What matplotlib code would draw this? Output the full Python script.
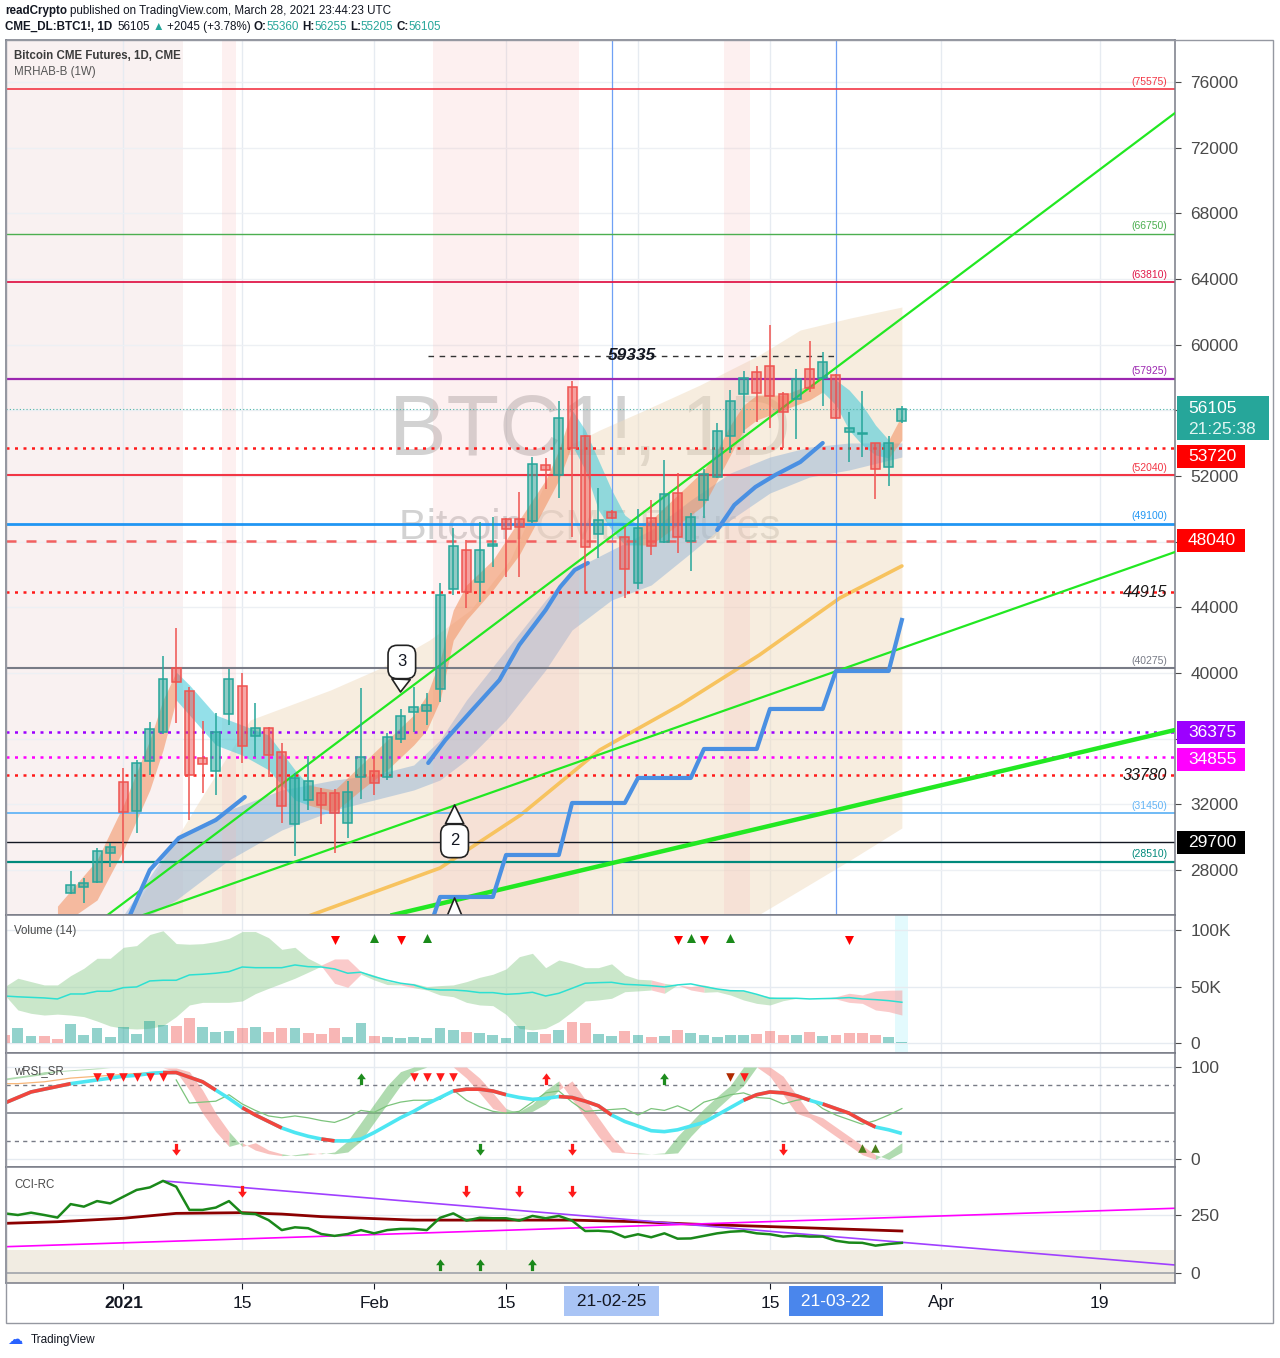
import matplotlib
matplotlib.use("Agg")
import matplotlib.pyplot as plt
import matplotlib.transforms as mtransforms
from matplotlib.colors import to_rgba
from matplotlib.patches import Rectangle
from matplotlib.path import Path

plt.rcParams['font.family'] = ['Liberation Sans', 'DejaVu Sans']

# ---------------- data (x = bar index, 0 = last bar 2021-03-29) ----------------
candle_idx = list(range(-63, 1))
opens = [26600, 26965, 27290, 29019, 33379, 31617, 34621, 36424, 40287, 38922,
         34809, 34048, 37484, 39208, 36180, 36670, 35170, 30784, 32245, 32672,
         32672, 30845, 33646, 34011, 33646, 35963, 37606, 37686, 39007, 45136,
         47493, 45563, 47737, 49400, 49400, 49278, 52653, 52061, 57403, 54437,
         48467, 49826, 48266, 45468, 49424, 47980, 50946, 48059, 50538, 51960,
         54456, 57005, 58317, 58700, 57005, 56680, 58500, 57956, 58135, 54668,
         54560, 53992, 52530, 55360]
highs = [27940, 27513, 29359, 29665, 34213, 34701, 37033, 41035, 42723, 39129,
         37076, 37545, 40243, 40020, 38155, 36730, 35720, 33890, 34944, 32975,
         32933, 33443, 39110, 34962, 36364, 37790, 39170, 38765, 45464, 48852,
         48102, 49182, 49522, 49420, 51044, 53176, 53078, 56570, 57806, 54500,
         51255, 49900, 48914, 49972, 50538, 52975, 52163, 49764, 52408, 55210,
         57239, 58419, 58723, 61198, 57140, 58500, 60242, 59553, 58200, 55920,
         57197, 54000, 54437, 56255]
lows = [26540, 25990, 27227, 28204, 28426, 30236, 33786, 36300, 36979, 31048,
        32708, 32568, 36834, 34500, 34900, 33690, 30884, 28870, 31655, 30784,
        29035, 29931, 32310, 32568, 33480, 35720, 36430, 36834, 38255, 44751,
        43939, 44305, 46476, 45867, 45867, 49117, 51194, 50646, 48302, 44953,
        46988, 49350, 44553, 45100, 47189, 47920, 47330, 46232, 49424, 51860,
        53382, 54601, 55310, 54906, 53687, 54236, 57117, 56264, 55500, 52872,
        53139, 50587, 51390, 55205]
closes = [27080, 27210, 29156, 29385, 31515, 34504, 36571, 39616, 39471, 33786,
          34443, 36387, 39616, 35571, 36630, 35003, 31922, 33590, 33440, 31944,
          31496, 32773, 34864, 33280, 36120, 37382, 37910, 38050, 44751, 47737,
          44917, 47493, 47860, 48771, 48873, 52713, 52366, 55515, 53687, 47657,
          49320, 49424, 46317, 48815, 47755, 50904, 48266, 49521, 52122, 54742,
          56570, 57956, 57043, 56873, 55886, 57895, 57342, 58931, 55555, 54905,
          54600, 52408, 54029, 56105]

# MRHAB-B cloud and ribbons
beige_idx = [-58.5, -53.2, -49.4, -43.3, -39.5, -35.8, -32.7, -29.7, -25.9, -22.9, -19.8, -15.3, -10.8, -7.7, -3.9, 0]
beige_hi = [25258, 32264, 37137, 38965, 40305, 42010, 43838, 46883, 53584, 54802, 55898, 57543, 59370, 60893, 61624, 62294]
beige_lo = [20000, 20000, 20000, 20000, 20000, 20000, 20000, 20000, 20000, 20000, 20000, 20000, 25300, 26782, 28610, 30560]

fr_idx = [-64, -61, -59, -57, -56, -55, -54, -52, -50, -48, -46, -45, -43, -41, -39, -37, -36, -35, -34, -33,
          -31, -29, -27, -26, -25, -24, -23, -22, -21, -20, -19, -17, -15, -14, -13, -12, -11, -9, -7, -6,
          -5, -4, -3, -2, -1, 0]
fr_lo = [24500, 26173, 29218, 32873, 35310, 38355, 37440, 35615, 35000, 34100, 32265, 31960, 31530, 32870, 34100,
         35615, 36530, 38350, 42000, 43230, 45055, 47190, 50230, 51750, 53890, 52360, 49930, 48710, 47800, 47800,
         47800, 49010, 50230, 51750, 53280, 54800, 55410, 56020, 56630, 57120, 56320, 54800, 53890, 53280, 53100, 54190]
fr_hi = [25800, 28610, 31960, 35920, 38355, 40060, 39270, 37440, 36830, 36220, 34100, 33180, 32870, 34400, 35920,
         37440, 38660, 40790, 43840, 45360, 46880, 49320, 51750, 53580, 56020, 54800, 52970, 51150, 49620, 49010,
         49320, 50840, 52360, 53580, 55100, 56320, 56930, 56930, 57540, 58150, 57850, 57240, 56320, 55100, 54190, 55710]
fr_col = "oooooo" "cccccc" "ooooooooooooo" "ccccc" "oooooooooo" "ccccc" "o"

br_idx = [-59, -55, -51, -47, -43, -40, -37, -35, -33, -30, -27, -25, -22, -19, -16, -13, -10, -7, -4, 0]
br_lo = [24346, 26173, 28610, 30437, 31655, 32264, 32873, 33482, 34701, 37137, 40183, 42619, 44446, 45360,
         47309, 49320, 50964, 51939, 52365, 53157]
br_hi = [25258, 29950, 31655, 32873, 33482, 33786, 34396, 35919, 38355, 41401, 44446, 46274, 47493, 48711,
         50538, 52183, 53157, 53766, 54010, 54010]

bl1_idx = [-58.5, -57, -54.8, -52, -49.8]
bl1 = [25258, 28000, 29950, 31045, 32446]
bl2_idx = [-35.9, -34.6, -32.7, -30.5, -29, -27, -25.9, -24.8, -23.8]
bl2 = [34518, 35919, 37624, 39573, 41705, 43837, 45238, 46274, 46700]
bl3_idx = [-14, -12.7, -11.1, -9.6, -7.7, -6]
bl3 = [48711, 50234, 51330, 52061, 52853, 54010]

step_idx = [-36, -35, -31, -30, -26, -25, -21, -20, -16, -15, -11, -10, -6, -5, -1, 0]
step_val = [24000, 26357, 26357, 28914, 28914, 32082, 32082, 33605, 33605, 35371, 35371, 37808, 37808, 40123, 40123, 43228]

ye_idx = [-47, -35, -28.9, -22.9, -16.8, -10.8, -4.7, 0]
ye_val = [24600, 28121, 31350, 35310, 38050, 41096, 44568, 46518]

trend_lines = [((-60.2, 25258), (20.7, 74112), 1.6),
               ((-57.5, 25258), (20.7, 47370), 1.6),
               ((-38.6, 25258), (20.7, 36528), 3.2)]

price_ticks = list(range(28000, 76001, 4000))
hidden_tick_labels = [56000, 48000, 36000]   # covered by the price boxes in the original

solid_levels = [75575, 66750, 63810, 57925, 52040, 49100, 40275, 31450, 29700, 28510]
solid_colors = ['#f23645', '#4caf50', '#e0194a', '#9c27b0', '#f23645', '#2196f3', '#787b86', '#64b5f6', '#131722', '#00897b']
solid_widths = [1.2, 1.0, 1.3, 1.6, 1.5, 2.0, 1.5, 1.3, 1.0, 1.6]
dot_levels = [53720, 48040, 44915, 36375, 34855, 33780]
dot_colors = ['#ff1a1a', '#f26060', '#ff1a1a', '#9c00ff', '#ff00ff', '#ff1a1a']
italic_levels = [44915, 33780]
# level, box colour, text colour, label shift in pixels (boxes are nudged apart)
boxed = [(53720, '#ff0000', 'white', -9), (48040, '#ff0000', 'white', 0), (36375, '#9c00ff', 'white', 0),
         (34855, '#ff00ff', 'white', -2), (29700, '#000000', 'white', 0)]
last_price = 56105
peak_level = 59335

bands = [(-67.9, -54.5), (-51.5, -50.5), (-35.5, -24.5), (-13.5, -11.5)]
callouts = [("3", (-38.0, 38843), (-37.9, 40670)),
            ("2", (-33.9, 31958), (-33.9, 29767)),
            ("1", (-33.9, 26294), (-33.9, 23900))]

# volume panel (K)
vol_idx = list(range(-68, 1))
volume = [7.3, 13.2, 6.4, 6.4, 3.8, 17.0, 7.3, 13.8, 5.6, 14.7, 8.2, 19.7, 16.2, 15.3, 22.1,
          14.7, 10.0, 10.9, 13.8, 14.7, 10.0, 13.2, 13.2, 9.1, 8.2, 13.8, 5.6, 17.9, 6.4, 5.3,
          4.7, 5.6, 4.7, 13.8, 11.5, 10.0, 9.1, 7.3, 4.7, 15.3, 10.0, 8.2, 11.5, 18.8, 17.9,
          8.2, 6.4, 10.9, 7.3, 5.6, 6.4, 11.8, 9.1, 7.3, 5.6, 7.3, 7.3, 8.2, 10.9, 7.3,
          7.3, 10.0, 6.4, 7.3, 9.1, 9.1, 7.3, 5.6, 1.2]
vol_dir = "rggrr" "ggggg" "gggrr" "gggrg" "rrgrr" "rggrg" "ggggg" "rgggg" "grgrr" "ggrgr" "grggg" "ggrrr" "grgrr" "rrgg"
vol_ma = [41.7, 41.0, 40.5, 40.0, 39.1, 43.5, 43.5, 45.9, 45.9, 49.1, 49.7, 55.0, 55.6, 55.6, 60.3,
          60.9, 61.8, 63.2, 67.3, 66.7, 66.7, 66.7, 69.1, 67.6, 67.3, 65.6, 61.8, 62.7, 58.8, 55.6,
          53.0, 51.5, 47.9, 47.0, 47.0, 46.2, 44.7, 44.7, 43.2, 43.8, 45.0, 41.7, 44.1, 48.5, 53.0,
          53.5, 53.8, 52.0, 51.5, 50.8, 49.7, 51.5, 52.4, 50.0, 47.9, 46.4, 46.2, 43.2, 39.7, 39.7,
          39.7, 39.1, 39.4, 39.7, 40.3, 39.1, 38.5, 37.6, 36.2]
vol_hi = [50.0, 57.4, 54.4, 51.5, 51.5, 59.7, 66.2, 75.0, 75.0, 84.7, 86.2, 96.0, 99.3, 88.0, 87.4,
          87.9, 89.7, 92.6, 98.6, 98.6, 93.2, 82.9, 84.7, 75.0, 69.1, 74.4, 74.4, 63.2, 60.3, 54.9,
          52.9, 52.9, 50.0, 50.9, 51.5, 54.4, 58.2, 60.9, 65.6, 76.4, 79.4, 66.7, 73.5, 70.6, 66.7,
          66.7, 70.1, 60.3, 56.5, 55.9, 52.9, 51.5, 50.0, 51.5, 48.5, 47.0, 46.2, 43.2, 41.1, 39.7,
          39.7, 39.1, 39.4, 41.1, 44.1, 42.6, 46.2, 46.8, 47.0]
vol_lo = [42.6, 29.4, 26.4, 24.9, 25.7, 24.9, 23.5, 19.6, 15.2, 13.2, 12.6, 13.2, 15.5, 23.5, 33.8,
          36.1, 36.1, 36.1, 37.3, 43.8, 48.5, 52.9, 57.4, 62.7, 68.1, 52.9, 49.4, 60.9, 55.9, 51.8,
          51.5, 49.0, 47.0, 42.6, 41.1, 36.1, 33.8, 33.2, 25.5, 13.2, 11.8, 13.2, 19.0, 27.9, 37.3,
          38.2, 39.7, 45.5, 46.2, 47.0, 44.1, 51.5, 47.0, 45.0, 45.5, 42.6, 38.2, 35.2, 33.8, 37.6,
          39.7, 39.1, 39.4, 39.1, 36.1, 35.2, 29.4, 27.9, 24.9]
vol_band_col = "ggggggggggggggggggggggggg" "rrr" "ggg" "r" "gggggggggggggggggg" "r" "g" "rr" "ggggggggg" "rrrrrr"
vol_sig_dn = [-43, -38, -17, -15, -4]
vol_sig_up = [-40, -36, -16, -13]

# wRSI_SR panel
rsi = [61, 67, 73, 76, 79, 82, 84, 86, 88, 90, 91, 93, 94, 94, 89, 84, 75, 66, 56, 48,
       41, 34, 29, 25, 22, 20, 20, 22, 29, 37, 45, 52, 60, 67, 74, 76, 76, 74, 70, 67,
       65, 66, 68, 67, 63, 58, 48, 41, 36, 31, 30, 32, 36, 40, 48, 56, 64, 70, 73, 72,
       69, 64, 60, 55, 50, 42, 35, 32, 28]
rsi_red_spans = [(-68, -63), (-56, -52), (-50, -47), (-44, -43), (-34, -30), (-26, -22), (-12, -7), (-6, -2)]
rsi_fast = [88, 90, 92, 95, 96, 97, 98, 99, 99, 99, 99, 99, 99, 95, 75, 50, 30, 14, 18, 10,
            6, 4, 5, 7, 6, 8, 20, 40, 60, 80, 95, 100, 100, 100, 100, 88, 72, 55, 50, 52,
            60, 75, 85, 65, 45, 25, 8, 7, 6, 6, 7, 25, 40, 55, 68, 80, 100, 100, 90, 70,
            50, 45, 35, 25, 15, 5, 0, 8, 18]
rsi_slow = [86, 88, 90, 92, 95, 96, 97, 98, 99, 99, 99, 99, 99, 99, 95, 75, 50, 30, 14, 18,
            10, 6, 4, 5, 7, 6, 8, 20, 40, 60, 80, 95, 100, 100, 100, 100, 88, 72, 55, 50,
            52, 60, 75, 85, 65, 45, 25, 8, 7, 6, 6, 7, 25, 40, 55, 68, 80, 100, 100, 90,
            70, 50, 45, 35, 25, 15, 5, 0, 8]
thin_idx = list(range(-55, 1))
rsi_thin = [86, 61, 62, 63, 70, 60, 53, 47, 45, 47, 45, 42, 40, 45, 53, 51, 58, 62, 64, 64,
            65, 75, 64, 57, 52, 50, 52, 62, 72, 74, 62, 52, 53, 54, 55, 48, 55, 53, 58, 52,
            62, 66, 70, 72, 67, 66, 60, 64, 66, 55, 48, 43, 38, 42, 48, 55]
orange_idx = list(range(-68, -54))
rsi_orange = [82, 82, 83, 84, 86, 88, 89, 90, 91, 92, 93, 94, 95, 95]
rsi_tri_dn = [-61, -60, -59, -58, -57, -56, -37, -36, -35, -34, -12]
rsi_tri_dn_dark = [-13]
rsi_tri_up = [-3, -2]
rsi_arrow_up = [(-41, '#1e8c1e'), (-27, '#ff1a1a'), (-18, '#1e8c1e')]
rsi_arrow_dn = [(-55, '#ff1a1a'), (-32, '#1e8c1e'), (-25, '#ff1a1a'), (-9, '#ff1a1a')]

# CCI-RC panel
cci = [257, 250, 260, 250, 239, 297, 286, 310, 300, 329, 358, 369, 397, 372, 272, 272, 282, 310, 257, 254,
       228, 185, 197, 193, 168, 160, 168, 185, 171, 185, 190, 190, 185, 238, 257, 226, 238, 236, 236, 226,
       246, 236, 246, 226, 181, 182, 178, 154, 167, 154, 171, 148, 149, 160, 171, 178, 181, 171, 167, 157,
       161, 157, 157, 139, 131, 130, 118, 125, 130]
cci_ma_idx = [-68, -64, -59, -55, -50, -47, -44, -37, -31, -25, -20, -16, -10, 0]
cci_ma = [214, 221, 236, 257, 260, 254, 243, 228, 228, 228, 221, 211, 200, 181]
cci_res = ((-55.9, 396.6), (20.7, 34.5))
cci_sup = ((-67.9, 113.4), (20.7, 279))
cci_arrow_dn = [-50, -33, -29, -25]
cci_arrow_up = [-35, -32, -28]

grid_idx = [-59, -50, -40, -30, -20, -10, 3, 15]
tick_text = ['2021', '15', 'Feb', '15', '', '15', 'Apr', '19']
marker_days = [(-22, '21-02-25', '#a9c4f5', '#131722'), (-5, '21-03-22', '#4a86ec', 'white')]

# ---------------- figure ----------------
W, H = 1280, 1358
fig = plt.figure(figsize=(W / 100, H / 100), dpi=100)


def panel(top, bottom):
    return fig.add_axes([6 / W, 1 - bottom / H, 1169 / W, (bottom - top) / H])


ax = panel(40, 915)
axv = panel(915, 1053)
axr = panel(1053, 1167)
axc = panel(1167, 1283)

for a in (ax, axv, axr, axc):
    a.set_xlim(-67.9, 20.7)
    a.yaxis.tick_right()
    a.tick_params(axis='y', length=4, pad=7, labelsize=12.5, colors='#4a4a4a')
    a.tick_params(axis='x', length=0, labelbottom=False)
    for s in a.spines.values():
        s.set_color('#787b86')
        s.set_linewidth(1.1)
    a.set_xticks(grid_idx)
    a.grid(True, axis='x', color='#e6ebf1', lw=1)
    a.set_axisbelow(True)

# ---- main panel ----
ax.set_ylim(25258, 78558)
ax.set_yticks(price_ticks)
ax.set_yticklabels(['' if t in hidden_tick_labels else str(t) for t in price_ticks])
ax.grid(True, axis='y', color='#edf0f4', lw=1)

ax.axvspan(bands[0][0], bands[0][1], color='#e8caca', alpha=0.25, lw=0, zorder=0.2)
for b0, b1 in bands[1:]:
    ax.axvspan(b0, b1, color='#f5b5b5', alpha=0.2, lw=0, zorder=1.3)

ax.text(0.4996, 0.551, 'BTC1!, 1D', transform=ax.transAxes, fontsize=62, color='#8a8a8a',
        alpha=0.38, ha='center', va='center', zorder=0.8)
ax.text(0.4996, 0.4423, 'Bitcoin CME Futures', transform=ax.transAxes, fontsize=30, color='#8a8a8a',
        alpha=0.38, ha='center', va='center', zorder=0.8)

ax.fill_between(beige_idx, beige_lo, beige_hi, color='#f0dcc0', alpha=0.5, lw=0, zorder=1)
ax.fill_between(br_idx, br_lo, br_hi, color='#8aaed6', alpha=0.45, lw=0, zorder=1.2)


def fill_runs(a, xs, lo, hi, cols, cmap, alpha, z):
    n = len(xs)
    k = 1
    while k < n:
        c = cols[k]
        j = k
        while j + 1 < n and cols[j + 1] == c:
            j += 1
        a.fill_between(xs[k - 1:j + 1], lo[k - 1:j + 1], hi[k - 1:j + 1], color=cmap[c],
                       alpha=alpha, lw=0, zorder=z)
        k = j + 1


fill_runs(ax, fr_idx, fr_lo, fr_hi, fr_col, {'o': '#f28e5c', 'c': '#3cc8d8'}, 0.55, 1.4)

ax.plot(ye_idx, ye_val, color='#f7c35f', lw=2.6, zorder=2, solid_capstyle='round')

tr = mtransforms.blended_transform_factory(ax.transAxes, ax.transData)
for lvl, c, lw in zip(solid_levels, solid_colors, solid_widths):
    ax.axhline(lvl, color=c, lw=lw, zorder=2.5)
    if lvl != 29700:
        ax.text(0.9932, lvl + 150, f'({lvl})', transform=tr, ha='right', va='bottom',
                fontsize=7.5, color=c, zorder=7)
for lvl, c in zip(dot_levels, dot_colors):
    ls = (0, (4, 4)) if lvl == 48040 else (0, (1.2, 2.2))
    ax.axhline(lvl, color=c, lw=1.8, ls=ls, zorder=2.5)
for lvl in italic_levels:
    ax.text(0.9932, lvl, str(lvl), transform=tr, ha='right', va='center', fontsize=11.5,
            style='italic', color='#1a1a1a', zorder=7)
ax.axhline(last_price, color='#4db6ac', lw=0.8, ls=(0, (1, 2)), zorder=2.5)

ax.hlines(peak_level, -35.9, -5.1, colors='#333333', linestyles=(0, (4, 4)), lw=1, zorder=2.6)
ax.text(-20.5, peak_level, str(peak_level), ha='center', va='center', fontsize=12.5,
        style='italic', fontweight='bold', color='#131722', zorder=7)

for d in (-22, -5):
    ax.axvline(d, color='#6fa0f5', lw=0.9, zorder=2.4)

for (x0, y0), (x1, y1), lw in trend_lines:
    ax.plot([x0, x1], [y0, y1], color='#22e822', lw=lw, zorder=3)

for xs, ys in ((bl1_idx, bl1), (bl2_idx, bl2), (bl3_idx, bl3)):
    ax.plot(xs, ys, color='#4a90e2', lw=3, zorder=3.5, solid_capstyle='round')
ax.plot(step_idx, step_val, color='#4a90e2', lw=3, zorder=3.5)

up = [c >= o for o, c in zip(opens, closes)]
edge = ['#26a69a' if u else '#ef5350' for u in up]
face = [to_rgba('#26a69a', 0.5) if u else to_rgba('#ef5350', 0.5) for u in up]
ax.vlines(candle_idx, lows, highs, colors=edge, lw=1.1, zorder=4)
ax.bar(candle_idx, [c - o for o, c in zip(opens, closes)], bottom=opens, width=0.68,
       color=face, edgecolor=edge, lw=1.1, zorder=4.1)

for lab, tip, box in callouts:
    an = ax.annotate(lab, xy=tip, xytext=box, ha='center', va='center', fontsize=12, color='#131722',
                     bbox=dict(boxstyle='round,pad=0.55', fc='white', ec='#222222', lw=1.2),
                     arrowprops=dict(arrowstyle='wedge,tail_width=1.1,shrink_factor=0.5',
                                     fc='white', ec='#222222', lw=1.2, shrinkA=0, shrinkB=0), zorder=6)
    an.set_clip_on(True)
    an.set_clip_box(ax.bbox)
    an.arrow_patch.set_clip_box(ax.bbox)
    an.arrow_patch.set_clip_on(True)

# ---- volume panel ----
axv.set_ylim(-8.6, 113.2)
axv.set_yticks([0, 50, 100])
axv.set_yticklabels(['0', '50K', '100K'])
axv.grid(True, axis='y', color='#e6ebf1', lw=1)
axv.axvspan(-0.5, 0.5, color='#e3fafd', lw=0, zorder=0.3)
fill_runs(axv, vol_idx, vol_lo, vol_hi, vol_band_col, {'g': '#9fd49f', 'r': '#f7a0a0'}, 0.55, 1)
axv.bar(vol_idx, volume, width=0.82,
        color=[to_rgba('#26a69a', 0.5) if d == 'g' else to_rgba('#ef5350', 0.42) for d in vol_dir],
        lw=0, zorder=2)
axv.plot(vol_idx, vol_ma, color='#2de0d2', lw=1.1, zorder=3)
axv.scatter(vol_sig_dn, [91] * len(vol_sig_dn), marker='v', s=42, color='#ff0000', zorder=4, lw=0)
axv.scatter(vol_sig_up, [93] * len(vol_sig_up), marker='^', s=42, color='#1a8a1a', zorder=4, lw=0)

# ---- RSI panel ----
axr.set_ylim(-8.3, 115.2)
axr.set_yticks([0, 100])
axr.grid(True, axis='y', color='#e6ebf1', lw=1)
axr.axhline(80, color='#787b86', lw=1, ls=(0, (3, 3)), zorder=1)
axr.axhline(20, color='#787b86', lw=1, ls=(0, (3, 3)), zorder=1)
axr.axhline(50, color='#8a8d96', lw=1.3, zorder=1)
rsi_idx = list(range(-68, 1))
rsi_fill_col = ['g' if f >= s else 'r' for f, s in zip(rsi_fast, rsi_slow)]
fill_runs(axr, rsi_idx, rsi_slow, rsi_fast, rsi_fill_col, {'g': '#6fbf6f', 'r': '#f58f8a'}, 0.55, 1.5)
axr.plot(orange_idx, rsi_orange, color='#f7b77a', lw=0.9, zorder=2)
axr.plot(thin_idx, rsi_thin, color='#7cc47c', lw=0.9, zorder=2)
axr.plot(rsi_idx, rsi, color='#4de6f2', lw=2.6, zorder=3, solid_capstyle='butt')
for a0, a1 in rsi_red_spans:
    axr.plot(rsi_idx[a0 + 68:a1 + 69], rsi[a0 + 68:a1 + 69], color='#f2453d', lw=2.6, zorder=3.1,
             solid_capstyle='butt')
axr.scatter(rsi_tri_dn, [89] * len(rsi_tri_dn), marker='v', s=38, color='#ff1a1a', zorder=4, lw=0)
axr.scatter(rsi_tri_dn_dark, [89], marker='v', s=38, color='#b02a00', zorder=4, lw=0)
axr.scatter(rsi_tri_up, [12] * len(rsi_tri_up), marker='^', s=38, color='#4b7d1a', zorder=4, lw=0)

arrow_dn = Path([(-0.22, 0.9), (0.22, 0.9), (0.22, 0.1), (0.6, 0.1), (0, -0.7), (-0.6, 0.1),
                 (-0.22, 0.1), (-0.22, 0.9)],
                [Path.MOVETO] + [Path.LINETO] * 6 + [Path.CLOSEPOLY])
arrow_up = Path([(x, -y) for x, y in arrow_dn.vertices], arrow_dn.codes)
for i, c in rsi_arrow_up:
    axr.scatter([i], [88], marker=arrow_up, s=90, color=c, zorder=4, lw=0)
for i, c in rsi_arrow_dn:
    axr.scatter([i], [10], marker=arrow_dn, s=90, color=c, zorder=4, lw=0)

# ---- CCI panel ----
axc.set_ylim(-43.1, 456.9)
axc.set_yticks([0, 250])
axc.grid(True, axis='y', color='#e6ebf1', lw=1)
axc.axhspan(-100, 100, color='#f1ece2', lw=0, zorder=0.6)
axc.axhline(0, color='#a0a3aa', lw=1.2, zorder=1)
axc.plot(cci_ma_idx, cci_ma, color='#8b0000', lw=2, zorder=2)
axc.plot(*zip(*cci_res), color='#a040ff', lw=1.2, zorder=2.2)
axc.plot(*zip(*cci_sup), color='#ff00ff', lw=1.2, zorder=2.2)
axc.plot(rsi_idx, cci, color='#1a881a', lw=1.8, zorder=3)
axc.scatter(cci_arrow_dn, [349] * len(cci_arrow_dn), marker=arrow_dn, s=90, color='#ff1a1a', zorder=4, lw=0)
axc.scatter(cci_arrow_up, [39] * len(cci_arrow_up), marker=arrow_up, s=90, color='#1a881a', zorder=4, lw=0)

axc.tick_params(axis='x', length=4, pad=5, labelbottom=True, labelsize=12.5, colors='#131722')
axc.set_xticklabels(tick_text)
axc.get_xticklabels()[0].set_fontweight('bold')
for d, lab, fc, tc in marker_days:
    axc.annotate(' ' + lab + ' ', xy=(d, 0), xycoords=('data', 'axes fraction'), xytext=(0, -18),
                 textcoords='offset pixels', ha='center', va='center', fontsize=12.5, color=tc,
                 bbox=dict(boxstyle='square,pad=0.45', fc=fc, ec='none'), annotation_clip=False)

# ---- right-axis price boxes ----
inv = fig.transFigure.inverted()
x_right = ax.transAxes.transform((1, 0))[0]


def price_box(price, label, fc, tc, shift=0, width=68, sub=None):
    yd = ax.transData.transform((0, price))[1] + shift
    top, bot = (yd + 11.5, yd - 11.5) if sub is None else (yd + 13, yd - 31)
    (x0, y0), (x1, y1) = inv.transform([(x_right + 2, bot), (x_right + 2 + width, top)])
    fig.add_artist(Rectangle((x0, y0), x1 - x0, y1 - y0, transform=fig.transFigure,
                             fc=fc, ec='none', zorder=10))
    fig.text((x_right + 13) / W, yd / H, label, color=tc, fontsize=12.5, va='center', ha='left', zorder=11)
    if sub is not None:
        fig.text((x_right + 13) / W, (yd - 21) / H, sub, color='#e0f5f2', fontsize=12.5,
                 va='center', ha='left', zorder=11)


for lvl, fc, tc, sh in boxed:
    price_box(lvl, str(lvl), fc, tc, shift=sh)
price_box(last_price, str(last_price), '#26a69a', 'white', width=92, sub='21:25:38')

# ---- texts / frame ----
fig.text(14 / W, 1 - 56 / H, 'Bitcoin CME Futures, 1D, CME', fontsize=8.3, fontweight='bold',
         color='#3c3c3c', va='center')
fig.text(14 / W, 1 - 72 / H, 'MRHAB-B (1W)', fontsize=8.3, color='#555555', va='center')
fig.text(14 / W, 1 - 931 / H, 'Volume (14)', fontsize=8.3, color='#4a4a4a', va='center')
fig.text(14 / W, 1 - 1071 / H, 'wRSI_SR', fontsize=8.3, color='#4a4a4a', va='center')
fig.text(14 / W, 1 - 1185 / H, 'CCI-RC', fontsize=8.3, color='#4a4a4a', va='center')

renderer = fig.canvas.get_renderer()


def runs(x_px, y_px, parts, size=8.4):
    x = x_px
    for s, bold, col, gap in parts:
        t = fig.text(x / W, 1 - y_px / H, s, fontsize=size, fontweight='bold' if bold else 'normal',
                     color=col, va='center', ha='left')
        x += t.get_window_extent(renderer).width + gap


ink, teal = '#131722', '#26a69a'
runs(5, 11, [('readCrypto', True, ink, 3),
             ('published on TradingView.com, March 28, 2021 23:44:23 UTC', False, ink, 0)])
runs(5, 27, [('CME_DL:BTC1!, 1D', True, ink, 5), ('56105', False, ink, 3), ('▲', False, teal, 3),
             ('+2045 (+3.78%)', False, ink, 3), ('O:', True, ink, 0), ('55360', False, teal, 3),
             ('H:', True, ink, 0), ('56255', False, teal, 3), ('L:', True, ink, 0),
             ('55205', False, teal, 3), ('C:', True, ink, 0), ('56105', False, teal, 0)])

fig.add_artist(Rectangle((6 / W, 1 - 1323 / H), 1267 / W, 1283 / H, transform=fig.transFigure,
                         fill=False, ec='#9598a1', lw=1, zorder=12))
fig.text(7 / W, 1 - 1339 / H, '☁', fontsize=11, color='#2962ff', va='center', family=['DejaVu Sans'])
fig.text(31 / W, 1 - 1340 / H, 'TradingView', fontsize=8.5, color='#131722', va='center')

fig.savefig('out.png', dpi=100, facecolor='white')
